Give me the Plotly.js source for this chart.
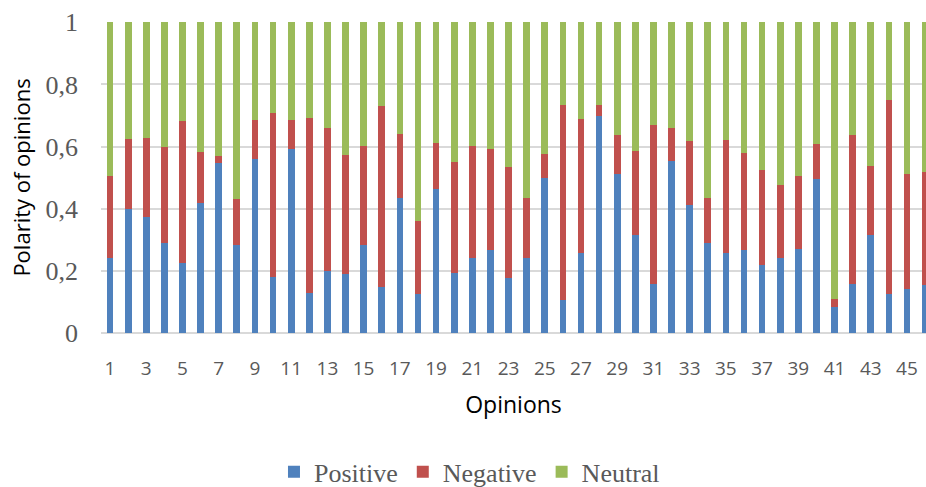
<!DOCTYPE html>
<html>
<head>
<meta charset="utf-8">
<script src="https://cdn.plot.ly/plotly-3.0.1.min.js"></script>
<style>html,body{margin:0;padding:0;background:#fff;}#chart{width:926px;height:487px;}</style>
</head>
<body>
<div id="chart"></div>
<script>
const opinions = [1,2,3,4,5,6,7,8,9,10,11,12,13,14,15,16,17,18,19,20,21,22,23,24,25,26,27,28,29,30,31,32,33,34,35,36,37,38,39,40,41,42,43,44,45,46];
const positive = [0.241,0.399,0.373,0.289,0.225,0.418,0.547,0.283,0.559,0.180,0.591,0.128,0.200,0.190,0.284,0.148,0.434,0.124,0.463,0.193,0.241,0.268,0.177,0.241,0.498,0.106,0.258,0.697,0.511,0.315,0.158,0.554,0.413,0.290,0.256,0.266,0.219,0.240,0.270,0.495,0.083,0.159,0.315,0.124,0.141,0.155];
const negative = [0.263,0.227,0.256,0.310,0.456,0.166,0.024,0.147,0.125,0.528,0.095,0.565,0.459,0.383,0.319,0.583,0.205,0.238,0.150,0.357,0.362,0.325,0.356,0.192,0.078,0.627,0.432,0.038,0.125,0.272,0.510,0.105,0.205,0.145,0.366,0.314,0.306,0.235,0.234,0.114,0.028,0.478,0.221,0.627,0.372,0.362];
const neutral = [0.496,0.374,0.371,0.401,0.319,0.416,0.429,0.570,0.316,0.292,0.314,0.307,0.341,0.427,0.397,0.269,0.361,0.638,0.387,0.450,0.397,0.407,0.467,0.567,0.424,0.267,0.310,0.265,0.364,0.413,0.332,0.341,0.382,0.565,0.378,0.420,0.475,0.525,0.496,0.391,0.889,0.363,0.464,0.249,0.487,0.483];
const xTickVals = [1,3,5,7,9,11,13,15,17,19,21,23,25,27,29,31,33,35,37,39,41,43,45];
const yTickVals = [0,0.2,0.4,0.6,0.8,1];
const yTickText = ["0","0,2","0,4","0,6","0,8","1"];
const seriesNames = ["Positive","Negative","Neutral"];
const seriesColors = ["#4F81BD","#C0504D","#9BBB59"];

const values = [positive, negative, neutral];
const traces = values.map((v, i) => ({
  type: 'bar', x: opinions, y: v, name: seriesNames[i],
  marker: {color: seriesColors[i], line: {width: 0}},
  hoverinfo: 'x+y+name'
}));

const layout = {
  width: 926, height: 487,
  margin: {l: 101, r: 0, t: 22, b: 154, autoexpand: false},
  barmode: 'stack',
  bargap: 0.63,
  paper_bgcolor: '#fff', plot_bgcolor: '#fff',
  showlegend: true,
  legend: {
    orientation: 'h', xref: 'container', x: 0.507, xanchor: 'center',
    yref: 'container', y: 0.031, yanchor: 'middle',
    font: {family: '"Liberation Serif", "Times New Roman", serif', size: 26, color: '#595959'},
    itemwidth: 30, traceorder: 'normal'
  },
  xaxis: {
    type: 'linear', range: [0.5, 46.05], automargin: false,
    tickmode: 'array', tickvals: xTickVals,
    showgrid: false, zeroline: false, showline: false,
    ticks: '', ticklabelstandoff: 22,
    tickfont: {family: '"Open Sans", sans-serif', size: 19, color: '#595959'},
    title: {text: 'Opinions', font: {family: '"Open Sans", sans-serif', size: 23, color: '#000'}, standoff: 16},
    fixedrange: true
  },
  yaxis: {
    range: [0, 1.001], automargin: false,
    tickmode: 'array', tickvals: yTickVals, ticktext: yTickText,
    showgrid: true, gridcolor: '#d9d9d9', gridwidth: 1.6,
    zeroline: true, zerolinecolor: '#d9d9d9', zerolinewidth: 1.6,
    showline: false, ticks: '', ticklabelstandoff: 22,
    tickfont: {family: '"Liberation Serif", "Times New Roman", serif', size: 26, color: '#595959'},
    title: {text: 'Polarity of opinions', font: {family: '"Open Sans", sans-serif', size: 22, color: '#000'}, standoff: 8},
    fixedrange: true
  }
};

Plotly.newPlot('chart', traces, layout, {displayModeBar: false, staticPlot: false});
</script>
</body>
</html>
